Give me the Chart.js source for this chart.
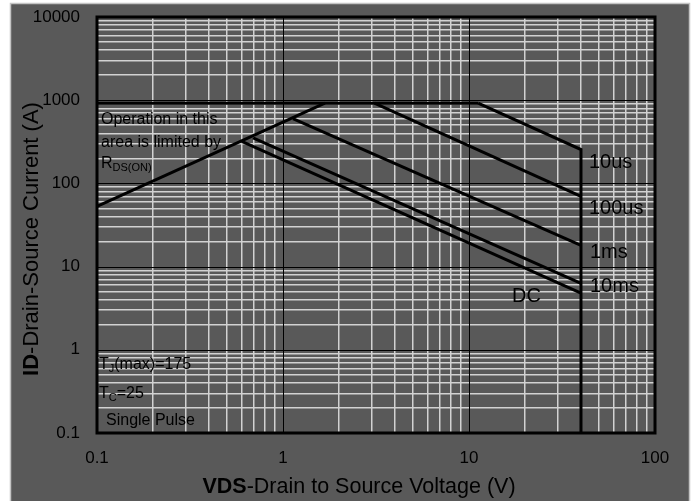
<!DOCTYPE html>
<html>
<head>
<meta charset="utf-8">
<script src="https://cdn.jsdelivr.net/npm/chart.js@4.4.0/dist/chart.umd.min.js"></script>
<style>
  html, body { margin: 0; padding: 0; background: #fff; }
  #wrap { width: 699px; height: 501px; }
</style>
</head>
<body>
<div id="wrap"><canvas id="soa" width="699" height="501"></canvas></div>
<script>
// tick labels (decades)
const xTickLabels = ['0.1', '1', '10', '100'];
const yTickLabels = ['0.1', '1', '10', '100', '1000', '10000'];

// SOA curves, VDS (V) / ID (A)
const rdsV = [0.1, 1.68];
const rdsI = [53, 920];
const limitV = [0.1, 11.2];
const limitI = [920, 920];
const us10V = [11.2, 40, 40];
const us10I = [920, 255, 0.1];
const us100V = [3.1, 40];
const us100I = [920, 70];
const ms1V = [1.13, 40];
const ms1I = [600, 18];
const ms10V = [0.69, 40];
const ms10I = [352, 6.3];
const dcV = [0.6, 40];
const dcI = [321, 4.8];

const FONT = '"Liberation Sans", Arial, sans-serif';

const logTicks = (labels) => {
    const decades = labels.map(Number);
    const out = [];
    decades.forEach((d, i) => {
        if (i === decades.length - 1) { out.push(d); return; }
        for (let m = 1; m < 10; m++) out.push(parseFloat((m * d).toPrecision(3)));
    });
    return out;
};
const xTicks = logTicks(xTickLabels);
const yTicks = logTicks(yTickLabels);

const isDecade = v => Math.abs(Math.log10(v) - Math.round(Math.log10(v))) < 1e-9;

const toPoints = (xs, ys) => xs.map((x, i) => ({ x: x, y: ys[i] }));
const curve = (xs, ys) => ({
    data: toPoints(xs, ys),
    showLine: true,
    borderColor: '#000',
    borderWidth: 3,
    pointRadius: 0,
    tension: 0,
    fill: false
});

// minor lines from the library, decade lines redrawn on top below
const gridOpts = {
    drawTicks: false,
    color: c => (c.tick && isDecade(c.tick.value)) ? 'rgba(0,0,0,0)' : '#d2d2d2',
    lineWidth: 1.5
};

const background = {
    id: 'background',
    beforeDraw(chart) {
        const ctx = chart.ctx;
        ctx.save();
        ctx.fillStyle = '#fff';
        ctx.fillRect(0, 0, chart.width, chart.height);
        ctx.fillStyle = '#595959';
        ctx.fillRect(10, 3, 680, 500);
        ctx.strokeStyle = '#c4c4c4';
        ctx.lineWidth = 1.5;
        ctx.strokeRect(10.5, 3.5, 679, 500);
        ctx.restore();
    }
};

const majorGrid = {
    id: 'majorGrid',
    beforeDatasetsDraw(chart) {
        const ctx = chart.ctx;
        const a = chart.chartArea;
        const sx = chart.scales.x, sy = chart.scales.y;
        ctx.save();
        ctx.strokeStyle = '#000';
        ctx.lineWidth = 1;
        ctx.beginPath();
        xTickLabels.forEach(l => {
            const px = Math.round(sx.getPixelForValue(Number(l))) + 0.5;
            ctx.moveTo(px, a.top);
            ctx.lineTo(px, a.bottom);
        });
        yTickLabels.forEach(l => {
            const py = Math.round(sy.getPixelForValue(Number(l))) + 0.5;
            ctx.moveTo(a.left, py);
            ctx.lineTo(a.right, py);
        });
        ctx.stroke();
        ctx.restore();
    }
};

// text with optional subscript parts: [text, isSub]
const drawParts = (ctx, x, y, parts) => {
    parts.forEach(([t, sub]) => {
        ctx.font = (sub ? '11px ' : '16px ') + FONT;
        ctx.fillText(t, x, y + (sub ? 3 : 0));
        x += ctx.measureText(t).width;
    });
};

const annotations = {
    id: 'annotations',
    afterDatasetsDraw(chart) {
        const ctx = chart.ctx;
        ctx.save();
        ctx.fillStyle = '#000';
        ctx.textAlign = 'left';
        ctx.textBaseline = 'alphabetic';

        ctx.font = '20px ' + FONT;
        ctx.fillText('10us', 589, 168);
        ctx.fillText('100us', 589, 214);
        ctx.fillText('1ms', 590, 258);
        ctx.fillText('10ms', 590, 292);
        ctx.fillText('DC', 512, 302);

        drawParts(ctx, 101, 124, [['Operation in this', false]]);
        drawParts(ctx, 101, 147, [['area is limited by', false]]);
        drawParts(ctx, 101, 168, [['R', false], ['DS(ON)', true]]);
        drawParts(ctx, 99, 369, [['T', false], ['J', true], ['(max)=175', false]]);
        drawParts(ctx, 99, 398, [['T', false], ['C', true], ['=25', false]]);
        drawParts(ctx, 106, 425, [['Single Pulse', false]]);
        ctx.restore();
    },
    afterDraw(chart) {
        const ctx = chart.ctx;
        const a = chart.chartArea;
        ctx.save();
        ctx.strokeStyle = '#000';
        ctx.lineWidth = 3;
        ctx.strokeRect(a.left, a.top, a.right - a.left, a.bottom - a.top);

        ctx.fillStyle = '#000';
        ctx.textBaseline = 'alphabetic';
        ctx.textAlign = 'left';

        // x title
        let bold = 'bold 21.5px ' + FONT, reg = '21.5px ' + FONT;
        ctx.font = bold;
        const xb = ctx.measureText('VDS').width;
        ctx.font = reg;
        const xr = ctx.measureText('-Drain to Source Voltage (V)').width;
        let x0 = 359 - (xb + xr) / 2;
        ctx.font = bold;
        ctx.fillText('VDS', x0, 493);
        ctx.font = reg;
        ctx.fillText('-Drain to Source Voltage (V)', x0 + xb, 493);

        // y title
        bold = 'bold 22px ' + FONT;
        reg = '22px ' + FONT;
        ctx.translate(38, 239);
        ctx.rotate(-Math.PI / 2);
        ctx.font = bold;
        const yb = ctx.measureText('ID').width;
        ctx.font = reg;
        const yr = ctx.measureText('-Drain-Source Current (A)').width;
        x0 = -(yb + yr) / 2;
        ctx.font = bold;
        ctx.fillText('ID', x0, 0);
        ctx.font = reg;
        ctx.fillText('-Drain-Source Current (A)', x0 + yb, 0);
        ctx.restore();
    }
};

const ctx = document.getElementById('soa').getContext('2d');
new Chart(ctx, {
    type: 'scatter',
    data: {
        datasets: [
            curve(rdsV, rdsI),
            curve(limitV, limitI),
            curve(us10V, us10I),
            curve(us100V, us100I),
            curve(ms1V, ms1I),
            curve(ms10V, ms10I),
            curve(dcV, dcI)
        ]
    },
    options: {
        responsive: false,
        animation: false,
        devicePixelRatio: 1,
        layout: { padding: { top: 17, right: 44, left: 0, bottom: 0 } },
        plugins: { legend: { display: false }, tooltip: { enabled: false } },
        scales: {
            x: {
                type: 'logarithmic',
                min: 0.1,
                max: 100,
                afterBuildTicks: s => { s.ticks = xTicks.map(v => ({ value: v })); },
                afterFit: s => { s.height = 68; s.paddingLeft = 0; s.paddingRight = 0; },
                ticks: {
                    autoSkip: false,
                    maxRotation: 0,
                    padding: 15,
                    color: '#000',
                    font: { family: FONT, size: 17 },
                    callback: v => xTickLabels.includes(String(v)) ? String(v) : ''
                },
                grid: gridOpts,
                border: { display: false }
            },
            y: {
                type: 'logarithmic',
                min: 0.1,
                max: 10000,
                afterBuildTicks: s => { s.ticks = yTicks.map(v => ({ value: v })); },
                afterFit: s => { s.width = 97; s.paddingTop = 0; s.paddingBottom = 0; },
                ticks: {
                    autoSkip: false,
                    padding: 17,
                    color: '#000',
                    font: { family: FONT, size: 17 },
                    callback: v => yTickLabels.includes(String(v)) ? String(v) : ''
                },
                grid: gridOpts,
                border: { display: false }
            }
        }
    },
    plugins: [background, majorGrid, annotations]
});
</script>
</body>
</html>
